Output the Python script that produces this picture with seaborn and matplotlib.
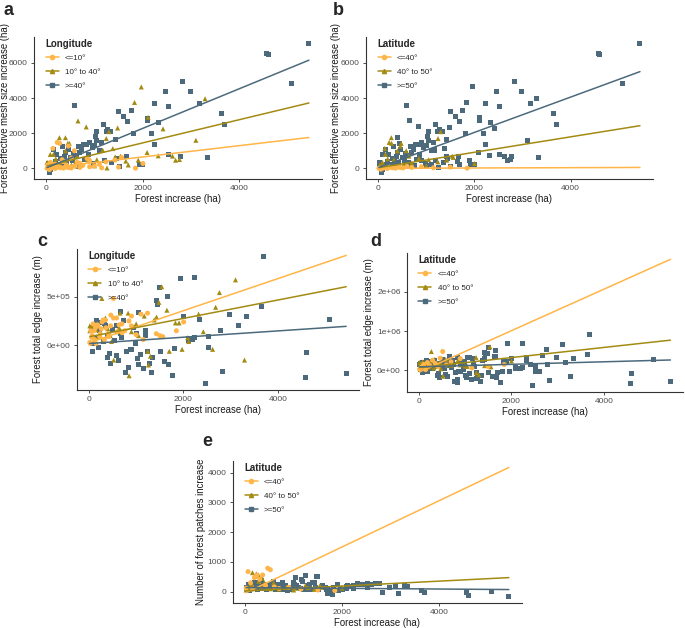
"""Forest change metrics vs forest increase, split by longitude / latitude band."""

import matplotlib
matplotlib.use("Agg")
import matplotlib.pyplot as plt
from matplotlib.lines import Line2D
from matplotlib.ticker import FuncFormatter
import numpy as np
import pandas as pd
import seaborn as sns

LON_BANDS = ["<=10°", "10° to 40°", ">=40°"]
LAT_BANDS = ["<=40°", "40° to 50°", ">=50°"]
COLORS = ["#FFB547", "#A38B12", "#4C6A7C"]
MARKERS = ["o", "^", "s"]

# sites, grouped by (longitude band, latitude band); edge in thousand metres
# lon >= 40, lat >= 50
f_x = [5440, 5080, 4600, 4570, 3700, 3640, 3340, 3170, 2980, 2830,
       2780, 2530, 2530, 2470, 2330, 2240, 2240, 2190, 2100, 2100,
       2000, 1930, 1810, 1760, 1690, 1600, 1670, 1510, 1500, 1430,
       1450, 1330, 1280, 1240, 1190, 1150, 1050, 1040, 1020, 900,
       845, 780, 675, 660, 585, 575, 460, 385, 330, 225,
       160, 85, 75, 50, 120, 200, 260, 300, 350, 430,
       500, 550, 620, 700, 740, 800, 950, 980, 1100, 1200,
       1350, 870, 400, 1000]
f_mesh = [7100, 4820, 6450, 6530, 2470, 3140, 650, 3710, 4360, 4950,
          700, 3540, 820, 4360, 2610, 3710, 1370, 1960, 2700, 2850,
          250, 200, 2000, 3270, 2660, 2930, 700, 110, 3260, 1620,
          550, 2080, 2230, 2100, 2470, 1500, 1600, 2090, 1800, 1500,
          1390, 1390, 1235, 100, 3560, 850, 1060, 700, 1235, 800,
          1060, -50, -230, 300, 150, 400, 250, 550, 150, 320,
          600, 450, 720, 900, 1100, 500, 1200, 300, 1000, 450,
          350, 800, 900, 1300]
f_edge = [-290, 270, -70, -330, 910, 400, 300, 200, 320, -270,
          150, -20, 90, -390, 260, 690, 76, 60, 70, 50,
          300, 680, -30, -310, -190, -160, 500, -60, 590, 460,
          420, -280, -180, -60, 150, -240, 340, -190, -130, -40,
          -230, -280, 120, 350, 200, -100, -180, 100, 220, 150,
          250, -60, 20, 180, 80, -20, 230, 40, 200, -80,
          160, 50, -150, 80, 250, -60, 180, 20, -90, 100,
          -120, -40, -120, 120]
f_patch = [-160, 24, -111, -34, -34, 57, 182, -68, 135, -34,
           270, 280, 150, 250, 250, 200, 120, 180, 193, 100,
           60, 30, -88, 40, 120, 200, 80, 90, 497, 300,
           150, 250, 200, 540, 350, 100, 200, 480, 250, 150,
           100, 300, 200, 80, 350, 150, 120, 250, 380, 200,
           100, 50, 150, 80, 220, 300, 60, 180, 120, 90,
           260, 130, 60, 180, 90, 200, 110, 60, 140, 90,
           60, 40, 160, 320]

# lon 10-40, lat >= 50
e_x = [1970, 3290, 1830, 660, 2110, 2420, 3100, 2090, 2320, 2760,
       2680, 1430, 1650, 1700, 1380, 1907, 2616, 1480, 400, 1170,
       1260, 86, 450, 20, 850, 300, 600, 1000, 830]
e_mesh = [4630, 3960, 3750, 2700, 2910, 2250, 1600, 910, 720, 510,
          470, 660, 420, 200, 1130, 474, 703, 2300, 1750, 1050,
          30, 800, 1430, 350, 490, 200, 300, 150, 2360]
e_edge = [-40, -150, 230, 330, 40, 140, 670, 80, 320, 540,
          390, 290, 360, -60, 260, 230, -40, 440, 170, 300,
          -200, 200, 100, 150, -310, 60, 140, 220, 330]
e_patch = [100, 200, 150, 250, 200, 250, 226, 190, 270, 270,
           280, 320, 160, -60, 300, 240, 250, 500, 200, 420,
           90, 220, 160, 100, 60, 150, 200, 250, 220]

# lon 10-40, lat 40-50
d_x = [20, 80, 150, 200, 275, 350, 400, 480, 525, 640, 900, 1050, 1245, 1300, 1540]
d_mesh = [120, 300, 800, 550, 1750, 400, 1000, 1430, 200, 700, 500, 500, 1700, 2090, 700]
d_edge = [200, 210, 160, 90, 480, 280, 120, 40, -150, 180, 140, 100, -60, -110, 600]
d_patch = [60, 180, 640, 520, 560, 460, 300, 250, 100, 160, 90, 120, 180, 140, 200]

# lon <= 10, lat >= 50
c_x = [30, 70, 120, 180, 260, 350, 420, 520, 640, 760, 900, 1100]
c_mesh = [60, -60, 150, 250, 100, 400, 200, 600, 350, 180, 450, 250]
c_edge = [20, 100, 60, 210, 170, 260, 120, 280, 210, 150, 200, 320]
c_patch = [150, 250, 200, 120, 300, 180, 100, 240, 60, 130, 90, 160]

# lon <= 10, lat 40-50
b_x = [40, 90, 140, 230, 280, 330, 461, 585, 700, 847, 1000, 1240, 1426, 1562, 2004]
b_mesh = [200, 350, 1140, 1480, 1430, 500, 1274, 1006, 300, 571, 150, 377, 474, 629, 285]
b_edge = [150, 220, 180, 90, 240, 60, 200, 280, 130, 250, 110, 330, 120, 90, 240]
b_patch = [80, 160, 250, 600, 350, 180, 120, 300, 90, 150, 60, 200, 80, 150, 120]

# lon <= 10, lat <= 40
a_x = [20, 60, 110, 150, 190, 240, 300, 360, 420, 465, 520, 600, 700, 900, 1150, 1500, 1850]
a_mesh = [10, -40, 30, 60, 0, 80, 40, 20, 90, 50, 30, 120, 60, 100, 40, 80, 20]
a_edge = [30, 80, 150, 20, 200, 120, 260, 180, 90, 310, 480, 140, 220, 300, 60, 100, 150]
a_patch = [120, 676, 300, 90, 473, 560, 420, 564, 200, 790, 740, 160, 110, 150, 90, 60, 40]

# linear fits: y at smallest and largest forest increase
mesh_lon_start, mesh_lon_end = [20, 150, 50], [1760, 3720, 6150]
mesh_lat_start, mesh_lat_end = [10, 50, 60], [60, 2430, 5500]
edge_lon_start, edge_lon_end = [30e3, 90e3, 20e3], [920e3, 600e3, 195e3]
edge_lat_start, edge_lat_end = [-40e3, 70e3, 90e3], [2830e3, 770e3, 265e3]
patch_lat_start, patch_lat_end = [-30, 30, 140], [4170, 475, 75]


def build_sites():
    blocks = [
        (LON_BANDS[2], LAT_BANDS[2], f_x, f_mesh, f_edge, f_patch),
        (LON_BANDS[1], LAT_BANDS[2], e_x, e_mesh, e_edge, e_patch),
        (LON_BANDS[1], LAT_BANDS[1], d_x, d_mesh, d_edge, d_patch),
        (LON_BANDS[0], LAT_BANDS[2], c_x, c_mesh, c_edge, c_patch),
        (LON_BANDS[0], LAT_BANDS[1], b_x, b_mesh, b_edge, b_patch),
        (LON_BANDS[0], LAT_BANDS[0], a_x, a_mesh, a_edge, a_patch),
    ]
    frames = []
    for lon, lat, x, mesh, edge, patch in blocks:
        frames.append(pd.DataFrame({
            "forest": x, "mesh": mesh,
            "edge": np.array(edge, dtype=float) * 1000, "patches": patch,
            "lon": lon, "lat": lat,
        }))
    return pd.concat(frames, ignore_index=True)


def expand(lo, hi, f=0.05):
    r = hi - lo
    return lo - f * r, hi + f * r


def panel(ax, df, ycol, band, bands, starts, ends, title, ylabel, yticks, sci=False):
    sns.scatterplot(data=df, x="forest", y=ycol, hue=band, style=band,
                    hue_order=bands, style_order=bands,
                    palette=dict(zip(bands, COLORS)), markers=dict(zip(bands, MARKERS)),
                    s=13, linewidth=0, legend=False, ax=ax, zorder=2)
    x0, x1 = df["forest"].min(), df["forest"].max()
    for c, y0, y1 in zip(COLORS, starts, ends):
        ax.plot([x0, x1], [y0, y1], color=c, lw=1.1, zorder=3)

    ax.set_xlim(*expand(x0, x1))
    lo = min(df[ycol].min(), *starts, *ends)
    hi = max(df[ycol].max(), *starts, *ends)
    ax.set_ylim(*expand(lo, hi))
    ax.set_xticks([0, 2000, 4000])
    ax.set_yticks(yticks)
    if sci:
        ax.yaxis.set_major_formatter(FuncFormatter(lambda v, p: f"{v:.0e}"))
    ax.set_xlabel("Forest increase (ha)", fontsize=6.9, color="#1a1a1a", labelpad=1)
    ax.set_ylabel(ylabel, fontsize=6.9, color="#1a1a1a")
    ax.tick_params(labelsize=6, labelcolor="#4d4d4d", color="#333333", length=2.5, width=0.6, pad=2)
    for side in ["top", "right"]:
        ax.spines[side].set_visible(False)
    for side in ["left", "bottom"]:
        ax.spines[side].set_color("#333333")
        ax.spines[side].set_linewidth(0.8)

    handles = [Line2D([0], [0], color=c, marker=m, markersize=3, lw=1.1)
               for c, m in zip(COLORS, MARKERS)]
    ax.legend(handles, bands, title=title, loc="upper left", bbox_to_anchor=(0.035, 1.0),
              frameon=False, fontsize=5.8, title_fontproperties={"weight": "bold", "size": 7},
              handlelength=1.6, handletextpad=0.8, labelspacing=0.75, alignment="left",
              borderaxespad=0, borderpad=0.2)


def main() -> None:
    sns.set_theme(style="ticks")
    plt.rcParams["font.family"] = ["Liberation Sans", "DejaVu Sans"]
    df = build_sites()

    W, H = 685, 628
    fig = plt.figure(figsize=(W / 100, H / 100), dpi=100)

    # axes boxes in pixels (left, top, right, bottom) and y-label centre x
    boxes = {
        "a": ((34, 37, 322, 179), 10),
        "b": ((366, 37, 653, 179), 341),
        "c": ((77, 249, 359, 390), 43),
        "d": ((407, 253, 683, 392), 374),
        "e": ((233, 461, 522, 603), 206),
    }
    axes = {}
    for key, ((l, t, r, b), lab_x) in boxes.items():
        axes[key] = fig.add_axes([l / W, 1 - b / H, (r - l) / W, (b - t) / H])

    mesh_label = "Forest effective mesh size increase (ha)"
    edge_label = "Forest total edge increase (m)"
    panel(axes["a"], df, "mesh", "lon", LON_BANDS, mesh_lon_start, mesh_lon_end,
          "Longitude", mesh_label, [0, 2000, 4000, 6000])
    panel(axes["b"], df, "mesh", "lat", LAT_BANDS, mesh_lat_start, mesh_lat_end,
          "Latitude", mesh_label, [0, 2000, 4000, 6000])
    panel(axes["c"], df, "edge", "lon", LON_BANDS, edge_lon_start, edge_lon_end,
          "Longitude", edge_label, [0, 5e5], sci=True)
    panel(axes["d"], df, "edge", "lat", LAT_BANDS, edge_lat_start, edge_lat_end,
          "Latitude", edge_label, [0, 1e6, 2e6], sci=True)
    panel(axes["e"], df, "patches", "lat", LAT_BANDS, patch_lat_start, patch_lat_end,
          "Latitude", "Number of forest patches increase", [0, 1000, 2000, 3000, 4000])

    for key, ((l, t, r, b), lab_x) in boxes.items():
        axes[key].yaxis.set_label_coords((lab_x - l) / (r - l), 0.5)

    letters = {"a": (4, 15), "b": (333, 15), "c": (37, 246), "d": (370, 246), "e": (202, 446)}
    for letter, (px, py) in letters.items():
        fig.text(px / W, 1 - py / H, letter, fontsize=13, fontweight="bold",
                 va="baseline", ha="left")

    fig.savefig("out.png", dpi=100, facecolor="white")


if __name__ == "__main__":
    main()
